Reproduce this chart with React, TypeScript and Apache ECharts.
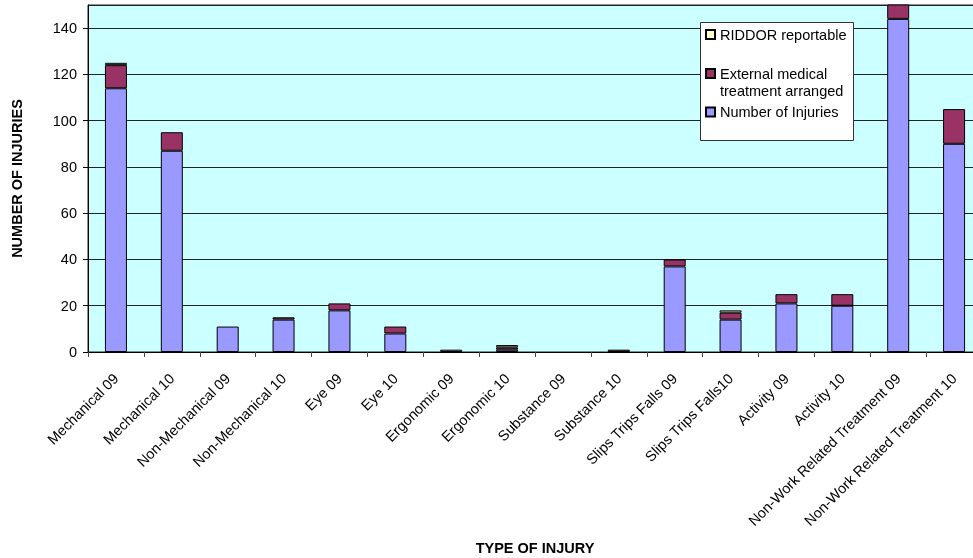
import React, { useEffect, useRef } from "react";
import * as echarts from "echarts";

const categories = [
  "Mechanical 09",
  "Mechanical 10",
  "Non-Mechanical 09",
  "Non-Mechanical 10",
  "Eye 09",
  "Eye 10",
  "Ergonomic 09",
  "Ergonomic 10",
  "Substance 09",
  "Substance 10",
  "Slips Trips Falls 09",
  "Slips Trips Falls10",
  "Activity 09",
  "Activity 10",
  "Non-Work Related Treatment 09",
  "Non-Work Related Treatment 10",
];

const numberOfInjuries = [114, 87, 11, 14, 18, 8, 1, 1, 0, 0, 37, 14, 21, 20, 144, 90];
const externalMedical = [10, 8, 0, 1, 3, 3, 0, 1, 0, 1, 3, 3, 4, 5, 9, 15];
const riddorReportable = [1, 0, 0, 0, 0, 0, 0, 1, 0, 0, 0, 1, 0, 0, 0, 0];

const yTicks = [0, 20, 40, 60, 80, 100, 120, 140];

const FONT = "'Liberation Sans', Arial, sans-serif";
const FS = 14.5;

const nz = (arr: number[]) => arr.map((v) => (v === 0 ? "-" : v));

export default function App() {
  const ref = useRef<HTMLDivElement>(null);

  useEffect(() => {
    if (!ref.current) return;
    const chart = echarts.init(ref.current, null, { renderer: "svg" });
    const barBase = {
      type: "bar" as const,
      stack: "total",
      barWidth: 22,
      itemStyle: { borderColor: "#000", borderWidth: 1 },
    };
    const legendBase = {
      orient: "vertical" as const,
      left: 705,
      padding: 0,
      icon: "rect",
      itemWidth: 9,
      itemHeight: 9,
      selectedMode: false,
      textStyle: { fontFamily: FONT, fontSize: FS, color: "#000", lineHeight: 17 },
    };
    chart.setOption({
      animation: false,
      textStyle: { fontFamily: FONT },
      grid: {
        left: 88,
        right: -9,
        top: 5,
        bottom: 206,
        containLabel: false,
        outerBoundsMode: "none",
        show: true,
        backgroundColor: "#CCFFFF",
        borderColor: "#222",
        borderWidth: 1,
      },
      graphic: [
        {
          type: "rect",
          z: 3,
          shape: { x: 700.5, y: 22.5, width: 153, height: 118 },
          style: { fill: "#fff", stroke: "#333", lineWidth: 1 },
        },
      ],
      legend: [
        { ...legendBase, top: 26, data: ["RIDDOR reportable"] },
        {
          ...legendBase,
          top: 48,
          data: ["External medical\ntreatment arranged"],
          formatter: (name: string) => " \n" + name,
        },
        { ...legendBase, top: 103.5, data: ["Number of Injuries"] },
      ],
      xAxis: {
        type: "category",
        data: categories,
        boundaryGap: true,
        name: "TYPE OF INJURY",
        nameLocation: "middle",
        nameGap: 188,
        nameTextStyle: { fontFamily: FONT, fontSize: FS, fontWeight: "bold", color: "#000" },
        axisLine: { show: true, lineStyle: { color: "#000", width: 1 } },
        axisTick: { show: true, alignWithLabel: false, length: 5, lineStyle: { color: "#444" } },
        axisLabel: {
          rotate: 45,
          interval: 0,
          margin: 24,
          fontFamily: FONT,
          fontSize: FS,
          color: "#000",
        },
      },
      yAxis: {
        type: "value",
        min: 0,
        max: 150,
        interval: 20,
        name: "NUMBER OF INJURIES",
        nameLocation: "middle",
        nameGap: 64,
        nameTextStyle: { fontFamily: FONT, fontSize: FS, fontWeight: "bold", color: "#000" },
        axisLine: { show: true, lineStyle: { color: "#000", width: 1 } },
        axisTick: { show: true, length: 5, lineStyle: { color: "#000" } },
        axisLabel: {
          margin: 11,
          fontFamily: FONT,
          fontSize: FS,
          color: "#000",
          showMaxLabel: false,
          formatter: (v: number) => (yTicks.includes(v) ? String(v) : ""),
        },
        splitLine: { show: true, lineStyle: { color: "#222", width: 1 } },
      },
      series: [
        {
          ...barBase,
          name: "Number of Injuries",
          data: nz(numberOfInjuries),
          itemStyle: { ...barBase.itemStyle, color: "#9999FF" },
        },
        {
          ...barBase,
          name: "External medical\ntreatment arranged",
          data: nz(externalMedical),
          itemStyle: { ...barBase.itemStyle, color: "#993366" },
        },
        {
          ...barBase,
          name: "RIDDOR reportable",
          data: nz(riddorReportable),
          itemStyle: { ...barBase.itemStyle, color: "#FFFFCC" },
        },
      ],
    });
    return () => chart.dispose();
  }, []);

  return (
    <div
      ref={ref}
      style={{ position: "fixed", left: 0, top: 0, width: 973, height: 558 }}
    />
  );
}
